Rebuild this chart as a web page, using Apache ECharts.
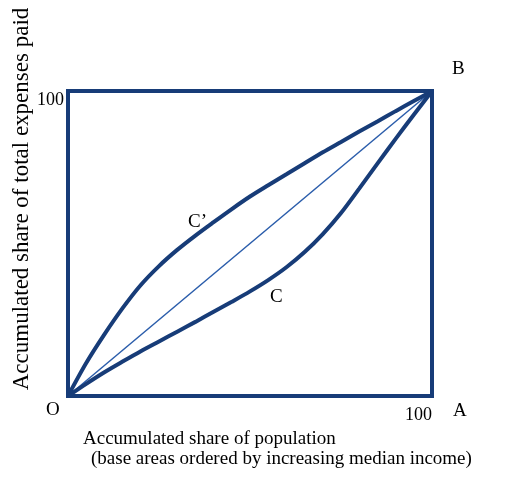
<!DOCTYPE html>
<html>
<head>
<meta charset="utf-8">
<style>html,body{margin:0;padding:0;background:#fff;}#chart{width:506px;height:479px;}</style>
<script src="https://cdn.jsdelivr.net/npm/echarts@6/dist/echarts.min.js"></script>
</head>
<body>
<div id="chart"></div>
<script>
// Curve C' (above diagonal) and C (below diagonal), x = accumulated share of population
var xShare = [0, 5, 10, 15, 20, 25, 30, 35, 40, 45, 50, 55, 60, 65, 70, 75, 80, 85, 90, 95, 100];
var curveCPrime = [0, 10.8, 20.2, 28.8, 36.4, 42.6, 47.9, 52.6, 57.0, 61.3, 65.4, 69.1, 72.7, 76.3, 79.9, 83.3, 86.7, 90.0, 93.4, 96.7, 100];
var curveC = [0, 4.0, 7.8, 11.3, 14.7, 17.9, 21.1, 24.3, 27.6, 30.9, 34.3, 38.0, 42.2, 47.2, 53.1, 60.0, 68.0, 76.2, 84.3, 92.2, 100];
var diagonal = [0, 100];
var diagonalX = [0, 100];
var tickLabels = ['100'];

var navy = '#173c78';
var serif = '"Liberation Serif","Times New Roman",serif';

function pairs(xs, ys) { return xs.map(function (x, i) { return [x, ys[i]]; }); }

var chart = echarts.init(document.getElementById('chart'));
chart.setOption({
  animation: false,
  grid: { left: 68, top: 91, width: 364, height: 305, show: true, borderColor: navy, borderWidth: 4, backgroundColor: 'transparent' },
  xAxis: {
    type: 'value', min: 0, max: 100, interval: 100,
    axisLine: { show: false }, axisTick: { show: false }, splitLine: { show: false },
    axisLabel: { formatter: function (v) { return v === 100 ? tickLabels[0] : ''; }, align: 'right', margin: 10,
      color: '#000', fontFamily: serif, fontSize: 18 }
  },
  yAxis: {
    type: 'value', min: 0, max: 100, interval: 100,
    axisLine: { show: false }, axisTick: { show: false }, splitLine: { show: false },
    axisLabel: { formatter: function (v) { return v === 100 ? tickLabels[0] : ''; }, verticalAlign: 'top', margin: 4,
      color: '#000', fontFamily: serif, fontSize: 18 }
  },
  series: [
    { type: 'line', data: pairs(diagonalX, diagonal), symbol: 'none', lineStyle: { color: '#2b5dab', width: 1.5 } },
    { type: 'line', data: pairs(xShare, curveCPrime), smooth: 0.3, symbol: 'none', lineStyle: { color: navy, width: 4 } },
    { type: 'line', data: pairs(xShare, curveC), smooth: 0.3, symbol: 'none', lineStyle: { color: navy, width: 4 } }
  ],
  graphic: [
    { type: 'text', left: 46, top: 401, style: { text: 'O', font: '19px ' + serif, fill: '#000' } },
    { type: 'text', left: 452, top: 60, style: { text: 'B', font: '19px ' + serif, fill: '#000' } },
    { type: 'text', left: 453, top: 402, style: { text: 'A', font: '19px ' + serif, fill: '#000' } },
    { type: 'text', left: 188, top: 213, style: { text: 'C\u2019', font: '19px ' + serif, fill: '#000' } },
    { type: 'text', left: 270, top: 288, style: { text: 'C', font: '19px ' + serif, fill: '#000' } },
    { type: 'text', left: 83, top: 430, style: { text: 'Accumulated share of population', font: '19px ' + serif, fill: '#000' } },
    { type: 'text', left: 91, top: 450, style: { text: '(base areas ordered by increasing median income)', font: '19px ' + serif, fill: '#000' } },
    { type: 'text', x: 22, y: 199, rotation: Math.PI / 2, style: { text: 'Accumulated share of total expenses paid', font: '23px ' + serif, fill: '#000', align: 'center', verticalAlign: 'middle' } }
  ]
});
</script>
</body>
</html>
